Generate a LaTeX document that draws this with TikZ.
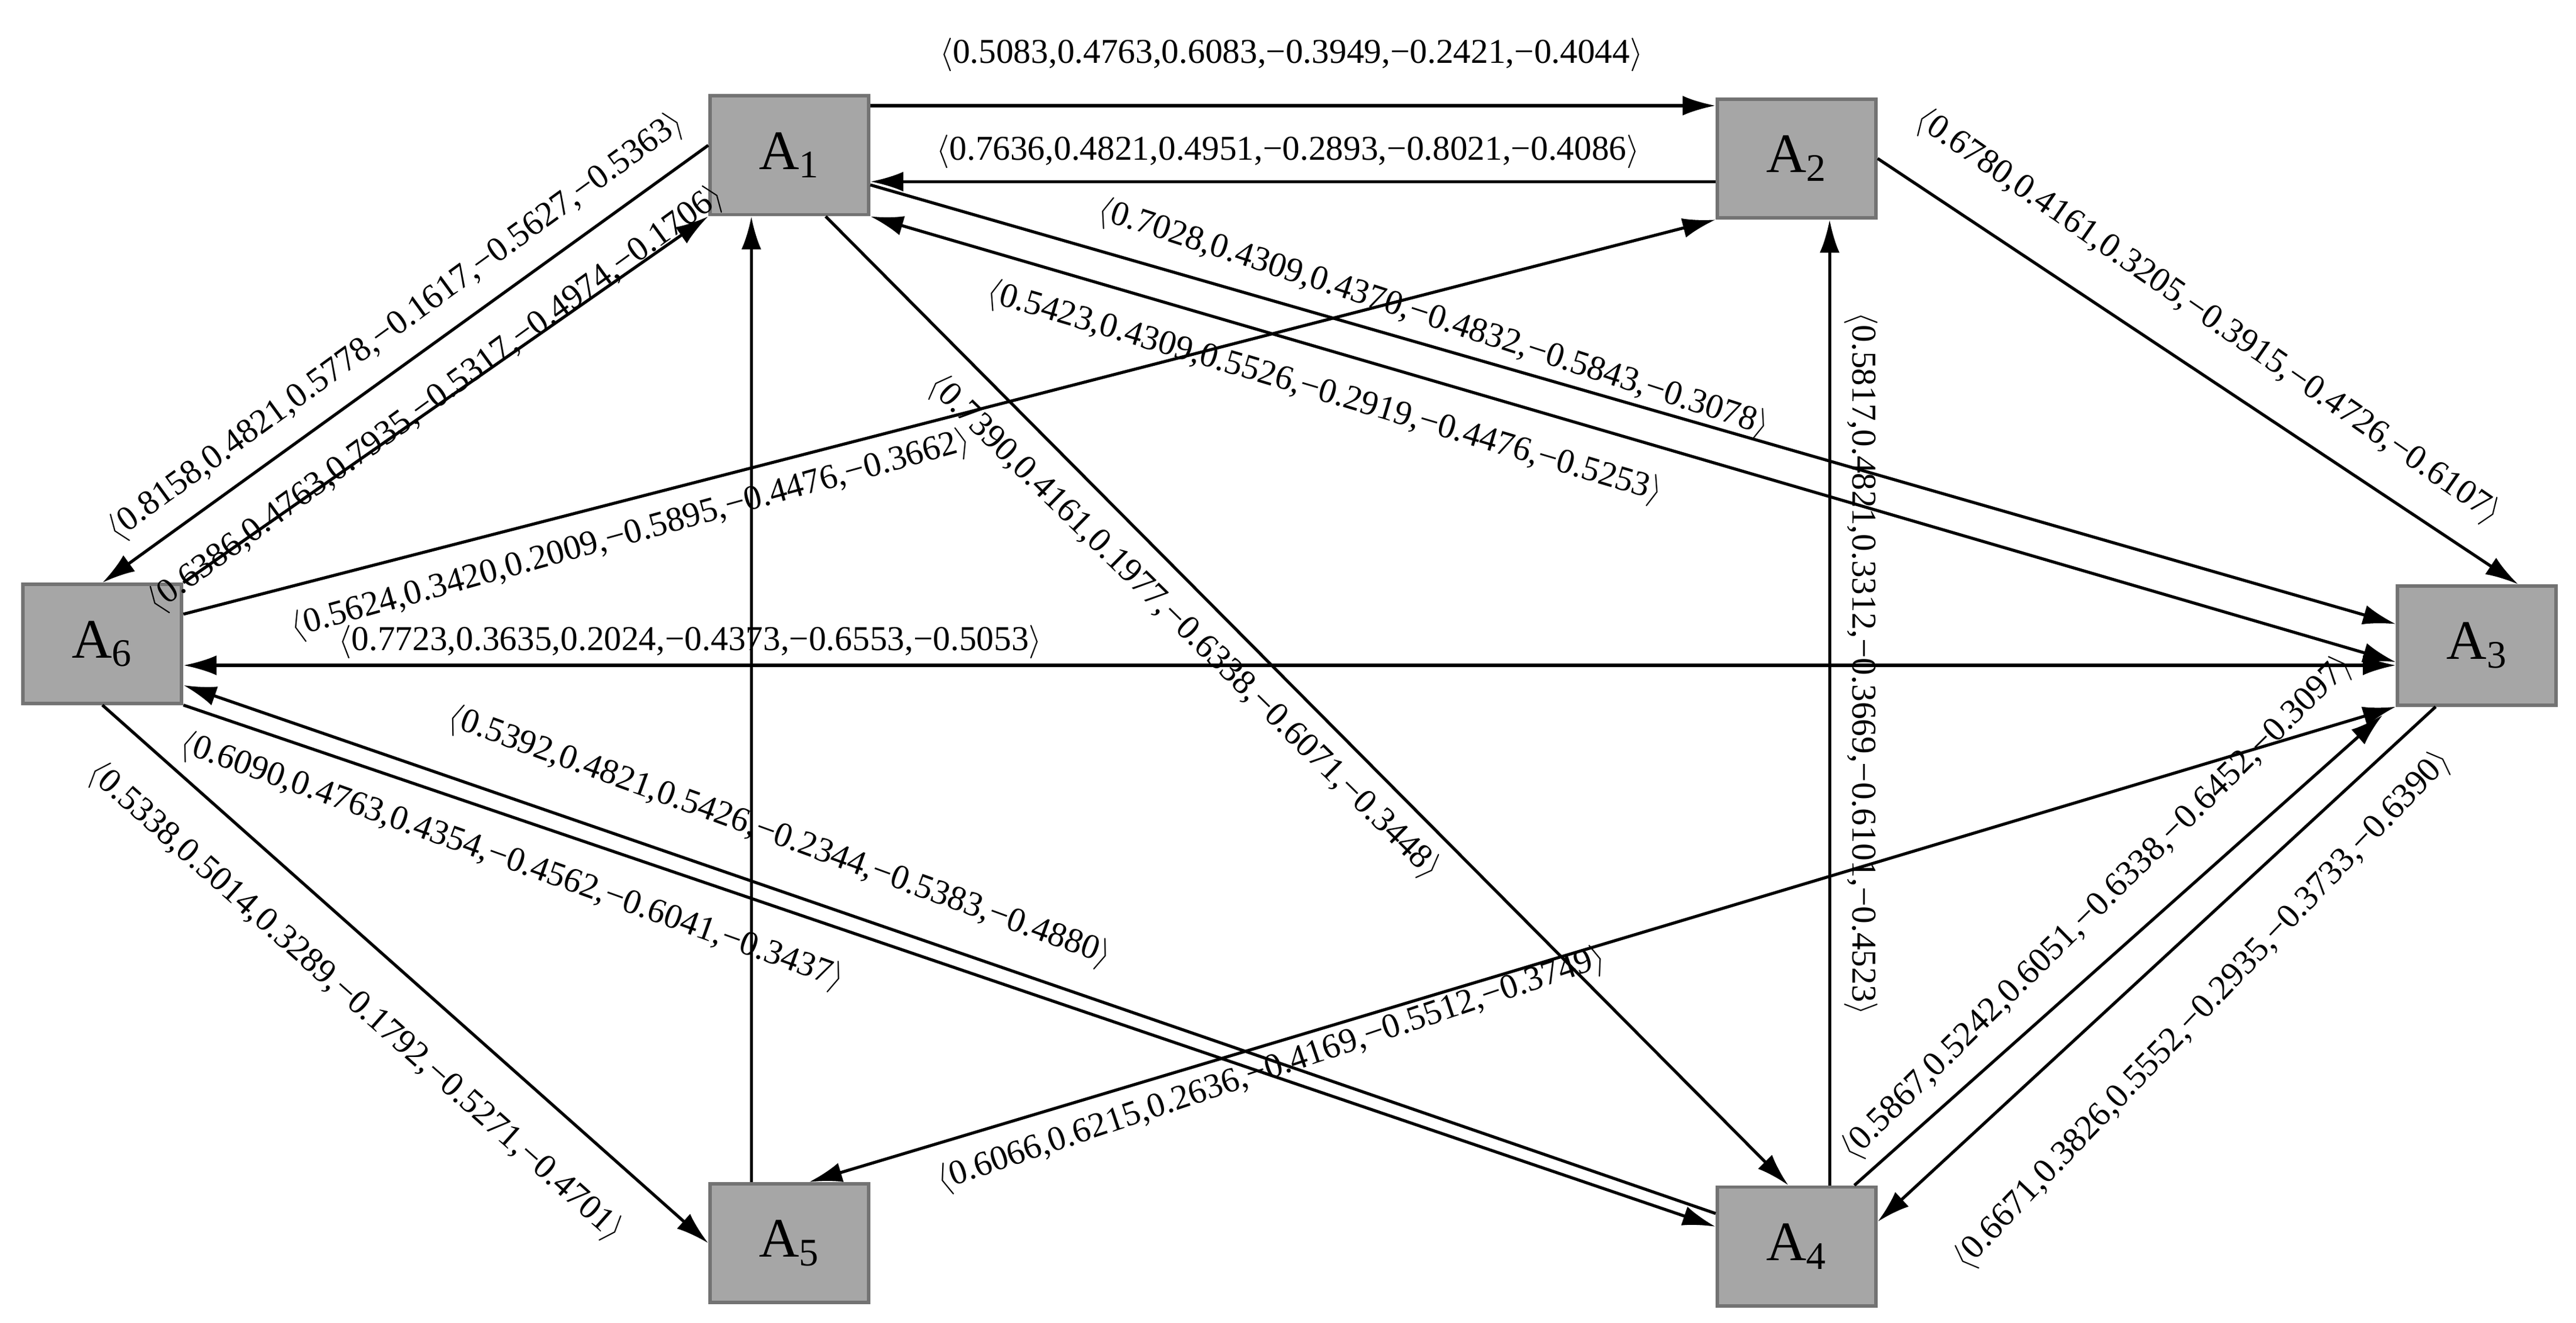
\documentclass[tikz,border=0pt]{standalone}
\usepackage{fontspec}
\setmainfont{Liberation Serif}
\usetikzlibrary{arrows.meta,calc}
\begin{document}
\begin{tikzpicture}[x=0.025cm,y=-0.025cm,
  box/.style={draw=gray!90!black,line width=1.5pt,fill=gray!70,minimum width=2.4cm,minimum height=1.8cm,inner sep=0pt,font=\fontsize{24}{26}\selectfont},
  ed/.style={line width=1.3pt,-{Latex[length=0.5cm,width=0.3cm]}},
  bd/.style={line width=1.3pt,{Latex[length=0.5cm,width=0.3cm]}-{Latex[length=0.5cm,width=0.3cm]}},
  lb/.style={font=\fontsize{15}{17}\selectfont,inner sep=1pt}]
\useasboundingbox (0,0) rectangle (1560,801);
\node[box] (A1) at (478,94) {A\textsubscript{1}};
\node[box] (A2) at (1088,96) {A\textsubscript{2}};
\node[box] (A3) at (1500,391) {A\textsubscript{3}};
\node[box] (A4) at (1088,755) {A\textsubscript{4}};
\node[box] (A5) at (478,753) {A\textsubscript{5}};
\node[box] (A6) at (62,390) {A\textsubscript{6}};
% edges
\draw[ed] ($(A1.east)+(0,-30)$) -- ($(A2.west)+(0,-32)$);
\draw[ed] ($(A2.west)+(0,14)$) -- ($(A1.east)+(0,16)$);
\draw[ed] ($(A1.west)+(0,-6)$) -- (A6.north);
\draw[ed] (A6.north east) -- (A1.south west);
\draw[ed] ($(A5.north)+(-23,0)$) -- ($(A1.south)+(-23,0)$);
\draw[ed] ($(A1.south)+(22,0)$) -- ($(A4.north)+(-5,0)$);
\draw[ed] ($(A1.east)+(0,18)$) -- ($(A3.west)+(0,-13)$);
\draw[bd] (A1.south east) -- ($(A3.west)+(0,10)$);
\draw[ed] (A2.east) -- ($(A3.north)+(25,0)$);
\draw[ed] ($(A4.north)+(20,0)$) -- ($(A2.south)+(20,0)$);
\draw[ed] ($(A6.east)+(0,-18)$) -- (A2.south west);
\draw[bd] ($(A6.east)+(0,13)$) -- ($(A3.west)+(0,12)$);
\draw[ed] ($(A4.west)+(0,-20)$) -- ($(A6.east)+(0,25)$);
\draw[ed] (A6.south east) -- ($(A4.west)+(0,-12)$);
\draw[ed] (A6.south) -- (A5.west);
\draw[bd] (A3.south west) -- ($(A5.north)+(12,0)$);
\draw[ed] ($(A4.north)+(35,0)$) -- ($(A3.south west)+(-8,5)$);
\draw[ed] ($(A3.south)+(-25,0)$) -- ($(A4.east)+(0,-15)$);
% labels
\node[lb] (l1) at (782,33) {$\langle$0.5083,0.4763,0.6083,−0.3949,−0.2421,−0.4044$\rangle$};
\node[lb] (l2) at (780,92) {$\langle$0.7636,0.4821,0.4951,−0.2893,−0.8021,−0.4086$\rangle$};
\node[lb,rotate=36] (l3) at (240,198) {$\langle$0.8158,0.4821,0.5778,−0.1617,−0.5627,−0.5363$\rangle$};
\node[lb,rotate=36] (l4) at (264,242) {$\langle$0.6386,0.4763,0.7935,−0.5317,−0.4974,−0.1706$\rangle$};
\node[lb,rotate=15.5] (l5) at (382,324) {$\langle$0.5624,0.3420,0.2009,−0.5895,−0.4476,−0.3662$\rangle$};
\node[lb] (l6) at (418,389) {$\langle$0.7723,0.3635,0.2024,−0.4373,−0.6553,−0.5053$\rangle$};
\node[lb,rotate=-18] (l7) at (868,193) {$\langle$0.7028,0.4309,0.4370,−0.4832,−0.5843,−0.3078$\rangle$};
\node[lb,rotate=-16.6] (l8) at (802,238) {$\langle$0.5423,0.4309,0.5526,−0.2919,−0.4476,−0.5253$\rangle$};
\node[lb,rotate=-34.7] (l9) at (1337,192) {$\langle$0.6780,0.4161,0.3205,−0.3915,−0.4726,−0.6107$\rangle$};
\node[lb,rotate=-44.5] (l10) at (717,380) {$\langle$0.7390,0.4161,0.1977,−0.6338,−0.6071,−0.3448$\rangle$};
\node[lb,rotate=-90] (l11) at (1127,402) {$\langle$0.5817,0.4821,0.3312,−0.3669,−0.6101,−0.4523$\rangle$};
\node[lb,rotate=-20] (l12) at (472,507) {$\langle$0.5392,0.4821,0.5426,−0.2344,−0.5383,−0.4880$\rangle$};
\node[lb,rotate=-19.7] (l13) at (310,522) {$\langle$0.6090,0.4763,0.4354,−0.4562,−0.6041,−0.3437$\rangle$};
\node[lb,rotate=-41.6] (l14) at (215,607) {$\langle$0.5338,0.5014,0.3289,−0.1792,−0.5271,−0.4701$\rangle$};
\node[lb,rotate=18.6] (l15) at (770,648) {$\langle$0.6066,0.6215,0.2636,−0.4169,−0.5512,−0.3749$\rangle$};
\node[lb,rotate=44.6] (l16) at (1270,550) {$\langle$0.5867,0.5242,0.6051,−0.6338,−0.6452,−0.3097$\rangle$};
\node[lb,rotate=46.3] (l17) at (1334,612) {$\langle$0.6671,0.3826,0.5552,−0.2935,−0.3733,−0.6390$\rangle$};
\end{tikzpicture}
\end{document}
